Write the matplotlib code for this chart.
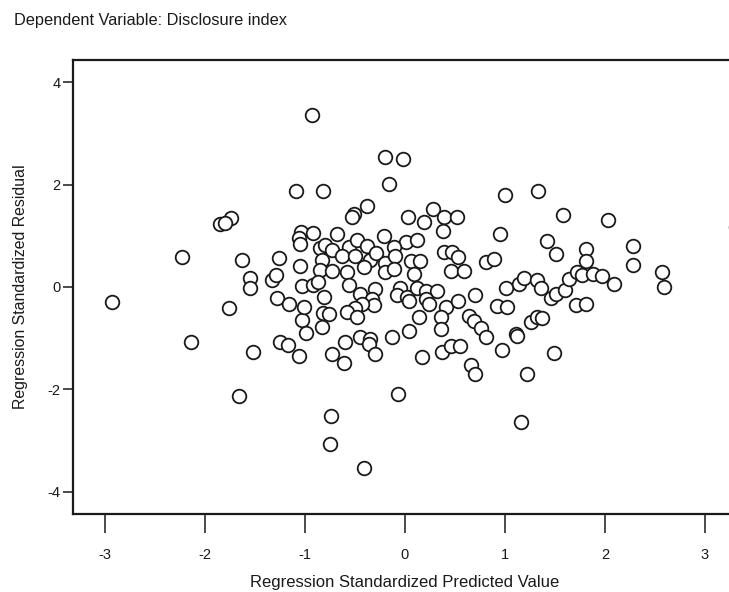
import matplotlib
matplotlib.use("Agg")
import matplotlib.pyplot as plt
import numpy as np

plt.rcParams['font.family'] = ['Liberation Sans', 'DejaVu Sans']
plt.rcParams['axes.unicode_minus'] = False

# Regression standardized predicted values (x) and residuals (y)
pred = [-2.93, -2.23, -2.14, -1.66, -1.85, -1.74, -1.63, -1.26, -1.55, -1.55, -1.33, -1.29,
        -1.09, -1.80, -1.76, -1.52, -1.28, -1.16, -1.25, -1.17, -1.06, -1.03, -0.99, -1.01,
        -1.05, -1.03, -0.92, -1.04, -1.06, -1.05, -0.92, -0.85, -0.80, -0.83, -0.85, -0.87,
        -0.81, -0.82, -0.83, -0.73, -0.61, -0.82, -0.93, -0.20, -0.02, -0.16, -0.38, -0.51,
        -0.53, 0.03, 0.19, 0.28, 0.39, 0.52, 0.38, -0.68, -0.21, 0.01, 0.12, -0.56,
        -0.48, -0.38, -0.73, -0.63, -0.50, -0.35, -0.29, -0.20, -0.11, -0.10, 0.06, 0.15,
        0.39, 0.47, 0.53, 0.46, 0.59, -0.73, -0.58, -0.41, -0.20, -0.11, 0.09, -0.56,
        -0.30, -0.45, -0.05, -0.08, 0.02, 0.04, 0.12, 0.21, 0.32, 0.21, 0.24, -0.33,
        -0.31, -0.43, -0.50, -0.58, -0.48, -0.76, 0.41, 0.36, 0.36, 0.14, 0.04, -0.60,
        -0.45, -0.35, -0.36, -0.30, -0.13, 0.17, 0.37, 0.46, 0.55, -0.07, -0.74, -0.75,
        -0.41, 1.00, 1.33, 1.58, 0.95, 1.42, 1.51, 0.81, 0.89, 1.01, 1.14, 1.19,
        1.32, 1.36, 1.46, 1.51, 1.60, 1.64, 1.72, 1.71, 1.81, 0.70, 0.53, 0.92,
        1.02, 0.64, 0.69, 0.76, 0.81, 1.26, 1.32, 1.37, 1.11, 1.12, 0.97, 1.49,
        0.66, 0.70, 1.22, 1.16, 2.03, 2.28, 2.28, 1.81, 1.81, 1.77, 1.88, 1.97,
        2.09, 2.57, 2.59, 3.31]
resid = [-0.30, 0.58, -1.07, -2.13, 1.24, 1.34, 0.52, 0.57, 0.18, -0.01, 0.13, 0.24,
         1.88, 1.25, -0.42, -1.28, -0.21, -0.33, -1.07, -1.13, -1.35, -0.64, -0.89, -0.39,
         0.42, 0.01, 0.03, 1.07, 0.95, 0.85, 1.05, 0.77, 0.83, 0.52, 0.34, 0.09,
         -0.19, -0.51, -0.79, -1.32, -1.49, 1.88, 3.36, 2.55, 2.51, 2.02, 1.59, 1.43,
         1.36, 1.37, 1.27, 1.52, 1.37, 1.37, 1.09, 1.04, 1.00, 0.88, 0.92, 0.79,
         0.91, 0.81, 0.72, 0.60, 0.60, 0.52, 0.66, 0.47, 0.78, 0.60, 0.50, 0.50,
         0.68, 0.68, 0.58, 0.32, 0.32, 0.32, 0.29, 0.39, 0.29, 0.36, 0.26, 0.03,
         -0.03, -0.13, -0.01, -0.15, -0.20, -0.27, -0.01, -0.07, -0.07, -0.23, -0.33, -0.23,
         -0.36, -0.33, -0.41, -0.49, -0.59, -0.52, -0.39, -0.59, -0.82, -0.59, -0.86, -1.08,
         -0.98, -1.02, -1.11, -1.31, -0.98, -1.36, -1.28, -1.16, -1.16, -2.10, -2.53, -3.08,
         -3.54, 1.80, 1.88, 1.40, 1.03, 0.90, 0.64, 0.49, 0.54, -0.02, 0.06, 0.18,
         0.14, -0.02, -0.21, -0.14, -0.06, 0.16, 0.29, -0.36, -0.34, -0.15, -0.27, -0.38,
         -0.40, -0.56, -0.67, -0.80, -0.97, -0.69, -0.59, -0.60, -0.92, -0.95, -1.24, -1.29,
         -1.53, -1.70, -1.71, -2.64, 1.31, 0.81, 0.44, 0.75, 0.51, 0.24, 0.26, 0.21,
         0.05, 0.29, 0.00, 1.18]

fig = plt.figure(figsize=(7.29, 5.92), dpi=100)
ax = fig.add_axes([73/729, 78/592, 663/729, 454/592])

ax.plot(pred, resid, linestyle='none', marker='o', markersize=9.8,
        markerfacecolor='white', markeredgecolor='#1a1a1a', markeredgewidth=1.3,
        clip_on=False)

ax.set_xlim(-3.32, 3.31)
ax.set_ylim(-4.44, 4.44)
ax.set_xticks([-3, -2, -1, 0, 1, 2, 3])
ax.set_yticks([-4, -2, 0, 2, 4])
ax.set_xticklabels(['-3', '-2', '-1', '0', '1', '2', '3'])
ax.set_yticklabels(['-4', '-2', '0', '2', '4'])

for s in ax.spines.values():
    s.set_linewidth(1.6)
    s.set_color('#1a1a1a')

ax.tick_params(axis='x', direction='out', length=13.5, width=1.1, pad=11,
               labelsize=10.5, colors='#1a1a1a')
ax.tick_params(axis='y', direction='out', length=7, width=1.1, pad=2,
               labelsize=10.5, colors='#1a1a1a')

ax.set_xlabel('Regression Standardized Predicted Value', fontsize=12, labelpad=9,
              color='#1a1a1a')
ax.set_ylabel('Regression Standardized Residual', fontsize=11.4, labelpad=14,
              color='#1a1a1a')

fig.text(14/729, 1 - 21/592, 'Dependent Variable: Disclosure index', fontsize=11.8,
         ha='left', va='center', color='#1a1a1a')

fig.savefig('out.png', dpi=100)
